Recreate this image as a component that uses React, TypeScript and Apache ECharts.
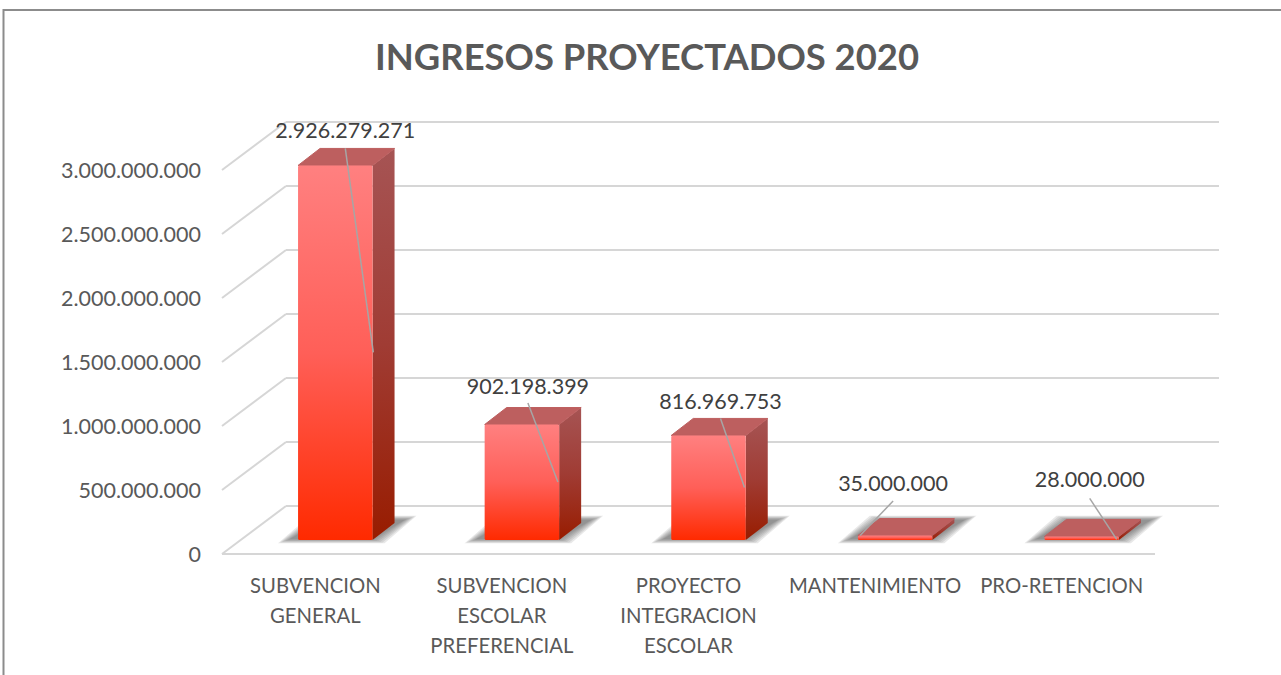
import React, { useEffect, useRef } from "react";
import * as echarts from "echarts";

const titleText = "INGRESOS PROYECTADOS 2020";
const categories = [
  "SUBVENCION\nGENERAL",
  "SUBVENCION\nESCOLAR\nPREFERENCIAL",
  "PROYECTO\nINTEGRACION\nESCOLAR",
  "MANTENIMIENTO",
  "PRO-RETENCION",
];
const ingresos = [2926279271, 902198399, 816969753, 35000000, 28000000];
const yTicks = [0, 500000000, 1000000000, 1500000000, 2000000000, 2500000000, 3000000000];

// Layout of the leader lines and data labels, relative to each bar's front-top centre: [labelDx, labelDy, startDx, startDy, endDx, endDy]
const leaderLayout = [
  [10, -35, 10, -17, 38, 187],
  [6, -38.5, 6, -21.5, 36, 57.5],
  [12, -34, 12, -17, 36, 52],
  [-2, -53, -2, -34.5, -35, 0],
  [8, -57, 8, -38, 35, 3],
];

const FONT = "Lato, 'Open Sans', sans-serif";
const fmt = (v: number) => String(v).replace(/\B(?=(\d{3})+(?!\d))/g, ".");

const BACK_X = 64;
const BACK_Y = 48;
const BAR_W = 74.5;
const SHIFT_X = 20;
const SHIFT_Y = 14;
const DEPTH_X = 22;
const DEPTH_Y = 17;
const GRID_COLOR = "#d6d6d6";
const SHADOW_SPREADS = [12, 10, 8, 6, 4, 2, 0];

function renderGrid(params: any, api: any) {
  const v = api.value(0);
  const cs = params.coordSys;
  const y = api.coord([0, v])[1];
  const left = cs.x;
  const right = cs.x + cs.width;
  const lineStyle = { stroke: GRID_COLOR, lineWidth: 2, fill: "none" };
  const children: any[] = [
    { type: "line", shape: { x1: left, y1: y, x2: left + BACK_X, y2: y - BACK_Y }, style: lineStyle },
    { type: "line", shape: { x1: left + BACK_X, y1: y - BACK_Y, x2: right + BACK_X, y2: y - BACK_Y }, style: lineStyle },
  ];
  if (v === 0) {
    children.push({ type: "line", shape: { x1: left, y1: y, x2: right, y2: y }, style: lineStyle });
  }
  return { type: "group", children };
}

function renderBar(params: any, api: any) {
  const i = params.dataIndex;
  const value = api.value(1);
  const top = api.coord([i, value]);
  const base = api.coord([i, 0]);
  const cx = top[0] + SHIFT_X;
  const ty = top[1] - SHIFT_Y;
  const by = base[1] - SHIFT_Y;
  const x0 = cx - BAR_W / 2;
  const x1 = cx + BAR_W / 2;
  const [lx, ly, sx, sy, ex, ey] = leaderLayout[i];
  const frontFill = new echarts.graphic.LinearGradient(0, 0, 0, 1, [
    { offset: 0, color: "#ff8080" },
    { offset: 0.5, color: "#ff5f58" },
    { offset: 1, color: "#ff2a00" },
  ]);
  const sideFill = new echarts.graphic.LinearGradient(0, 0, 0, 1, [
    { offset: 0, color: "#a65454" },
    { offset: 0.5, color: "#a03c34" },
    { offset: 1, color: "#981c00" },
  ]);
  const shadows = SHADOW_SPREADS.map((e) => ({
    type: "polygon",
    shape: {
      points: [
        [x0 - 8 - e, by - 1 + e * 0.35],
        [x1 + e, by - 1 + e * 0.35],
        [x1 + 32 + e, by - 20 - e * 0.35],
        [x0 + 24 - e, by - 20 - e * 0.35],
      ],
    },
    style: { fill: "rgba(90,90,90,0.14)" },
  }));
  return {
    type: "group",
    children: [
      ...shadows,
      {
        type: "polygon",
        shape: { points: [[x1, ty], [x1 + DEPTH_X, ty - DEPTH_Y], [x1 + DEPTH_X, by - DEPTH_Y], [x1, by]] },
        style: { fill: sideFill },
      },
      {
        type: "polygon",
        shape: { points: [[x0, ty], [x0 + DEPTH_X, ty - DEPTH_Y], [x1 + DEPTH_X, ty - DEPTH_Y], [x1, ty]] },
        style: { fill: "#bd5f5f", stroke: "#bd5f5f", lineWidth: 1, lineJoin: "round" },
      },
      {
        type: "rect",
        shape: { x: x0, y: ty, width: BAR_W, height: by - ty, r: 1.5 },
        style: { fill: frontFill },
      },
      {
        type: "line",
        shape: { x1: cx + sx, y1: ty + sy, x2: cx + ex, y2: ty + ey },
        style: { stroke: "#a6a6a6", lineWidth: 1.5 },
      },
      {
        type: "text",
        style: {
          text: fmt(value),
          x: cx + lx,
          y: ty + ly,
          textAlign: "center",
          textVerticalAlign: "middle",
          fontSize: 21.5,
          fontFamily: FONT,
          fill: "#404040",
        },
      },
    ],
  };
}

export default function App() {
  const ref = useRef<HTMLDivElement>(null);
  useEffect(() => {
    document.body.style.margin = "0";
    const chart = echarts.init(ref.current!, null, { renderer: "svg" });
    chart.setOption({
      animation: false,
      backgroundColor: "#ffffff",
      title: {
        text: titleText,
        left: 642,
        top: 33,
        textAlign: "center",
        textStyle: { fontFamily: FONT, fontSize: 36.4, fontWeight: "bold", color: "#595959" },
      },
      grid: { left: 222, top: 170, width: 933, height: 384, containLabel: false },
      xAxis: {
        type: "category",
        data: categories,
        axisLine: { show: false },
        axisTick: { show: false },
        axisLabel: {
          interval: 0,
          margin: 16,
          fontFamily: FONT,
          fontSize: 20.3,
          lineHeight: 30,
          color: "#595959",
          verticalAlign: "top",
        },
      },
      yAxis: {
        type: "value",
        min: 0,
        max: 3000000000,
        interval: 500000000,
        axisLine: { show: false },
        axisTick: { show: false },
        splitLine: { show: false },
        axisLabel: {
          margin: 21,
          fontFamily: FONT,
          fontSize: 21.5,
          color: "#595959",
          formatter: (v: number) => fmt(v),
        },
      },
      graphic: [
        { type: "line", shape: { x1: 3.5, y1: 10, x2: 1281, y2: 10 }, style: { stroke: "#8c8c8c", lineWidth: 2 } },
        { type: "line", shape: { x1: 3.5, y1: 9, x2: 3.5, y2: 675 }, style: { stroke: "#8c8c8c", lineWidth: 2 } },
      ],
      series: [
        {
          type: "custom",
          name: "grid",
          z: 1,
          silent: true,
          renderItem: renderGrid,
          encode: { y: 0 },
          data: yTicks.map((t) => [t]),
        },
        {
          type: "custom",
          name: "Ingresos",
          z: 2,
          renderItem: renderBar,
          encode: { x: 0, y: 1 },
          data: ingresos.map((v, i) => [i, v]),
        },
      ],
    });
    return () => chart.dispose();
  }, []);
  return <div ref={ref} style={{ position: "absolute", left: 0, top: 0, width: 1281, height: 675, overflow: "hidden" }} />;
}
